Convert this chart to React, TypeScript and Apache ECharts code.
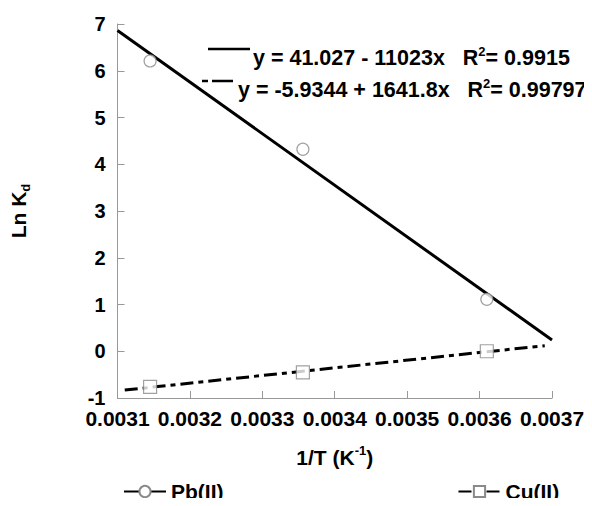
import React, { useEffect, useRef } from "react";
import * as echarts from "echarts";

const xTicks = [0.0031, 0.0032, 0.0033, 0.0034, 0.0035, 0.0036, 0.0037];
const yTicks = [-1, 0, 1, 2, 3, 4, 5, 6, 7];
const invT = [0.003145, 0.003356, 0.00361];
const pbLnKd = [6.21, 4.32, 1.11];
const cuLnKd = [-0.76, -0.45, 0.0];
const pbFitX = [0.0031, 0.0037];
const pbFitY = [6.86, 0.24];
const cuFitX = [0.00311, 0.00369];
const cuFitY = [-0.83, 0.12];
const pbEquation = ["y = 41.027 - 11023x   R", "2", "= 0.9915"];
const cuEquation = ["y = -5.9344 + 1641.8x   R", "2", "= 0.99797"];

const FONT = "'Liberation Sans', Arial, sans-serif";
const FS = 21;

export default function App() {
  const ref = useRef<HTMLDivElement>(null);
  useEffect(() => {
    if (!ref.current) return;
    const chart = echarts.init(ref.current, undefined, { renderer: "svg" });
    const pointStyle = { color: "#fff", borderColor: "#8a8a8a", borderWidth: 1.2 };
    const richEq = {
      a: { fontFamily: FONT, fontWeight: "bold", fontSize: 21.5, color: "#000", lineHeight: 26 },
      sup: { fontFamily: FONT, fontWeight: "bold", fontSize: 13, color: "#000", lineHeight: 13, verticalAlign: "top" },
    };
    const richName = {
      a: { fontFamily: FONT, fontWeight: "bold", fontSize: FS, color: "#000", lineHeight: 26 },
      sup: { fontFamily: FONT, fontWeight: "bold", fontSize: 13, color: "#000", lineHeight: 13, verticalAlign: "top" },
    };
    chart.setOption({
      animation: false,
      backgroundColor: "#fff",
      textStyle: { fontFamily: FONT },
      grid: { left: 117, top: 24, right: 40, bottom: 108, containLabel: false },
      xAxis: {
        type: "value",
        min: xTicks[0],
        max: xTicks[xTicks.length - 1],
        interval: 0.0001,
        name: "{a|1/T (K}{sup|-1}{a|)}",
        nameLocation: "middle",
        nameGap: 46,
        nameTextStyle: { rich: richName },
        axisLine: { show: true, onZero: false, lineStyle: { color: "#999", width: 1 } },
        axisTick: { show: true, inside: true, length: 7, lineStyle: { color: "#999" } },
        splitLine: { show: false },
        axisLabel: {
          formatter: (v: number) => v.toFixed(4),
          fontFamily: FONT,
          fontWeight: "bold",
          fontSize: FS,
          color: "#000",
          margin: 10,
        },
      },
      yAxis: {
        type: "value",
        min: yTicks[0],
        max: yTicks[yTicks.length - 1],
        interval: 1,
        name: "{a|Ln K}{sub|d}",
        nameLocation: "middle",
        nameGap: 86,
        nameRotate: 90,
        nameTextStyle: {
          rich: {
            a: { fontFamily: FONT, fontWeight: "bold", fontSize: FS, color: "#000", lineHeight: 26 },
            sub: { fontFamily: FONT, fontWeight: "bold", fontSize: 13, color: "#000", lineHeight: 13, verticalAlign: "bottom" },
          },
        },
        axisLine: { show: true, onZero: false, lineStyle: { color: "#999", width: 1 } },
        axisTick: { show: true, inside: true, length: 7, lineStyle: { color: "#999" } },
        splitLine: { show: false },
        axisLabel: { fontFamily: FONT, fontWeight: "bold", fontSize: 20, color: "#000", margin: 12 },
      },
      legend: {
        data: ["Pb(II)", "Cu(II)"],
        left: 123,
        top: 481,
        padding: 0,
        itemWidth: 42,
        itemHeight: 14,
        itemGap: 234,
        textStyle: { fontFamily: FONT, fontWeight: "bold", fontSize: FS, color: "#000" },
      },
      series: [
        {
          name: "Pb(II)",
          type: "line",
          data: pbFitX.map((x, i) => [x, pbFitY[i]]),
          symbol: "circle",
          symbolSize: 11,
          showSymbol: false,
          lineStyle: { color: "#000", width: 3 },
          itemStyle: pointStyle,
          z: 2,
        },
        {
          name: "Cu(II)",
          type: "line",
          data: cuFitX.map((x, i) => [x, cuFitY[i]]),
          symbol: "rect",
          symbolSize: 12,
          showSymbol: false,
          lineStyle: { color: "#000", width: 3, type: [13, 5, 5, 5] },
          itemStyle: pointStyle,
          z: 2,
        },
        {
          name: "Pb(II) points",
          type: "scatter",
          data: invT.map((x, i) => [x, pbLnKd[i]]),
          symbol: "circle",
          symbolSize: 12,
          itemStyle: pointStyle,
          z: 3,
        },
        {
          name: "Cu(II) points",
          type: "scatter",
          data: invT.map((x, i) => [x, cuLnKd[i]]),
          symbol: "rect",
          symbolSize: 13,
          itemStyle: pointStyle,
          z: 3,
        },
      ],
      graphic: [
        {
          type: "line",
          shape: { x1: 208, y1: 49, x2: 250, y2: 49 },
          style: { stroke: "#000", lineWidth: 2.5 },
        },
        {
          type: "text",
          x: 253,
          y: 58,
          style: {
            text: `{a|${pbEquation[0]}}{sup|${pbEquation[1]}}{a|${pbEquation[2]}}`,
            rich: richEq,
            verticalAlign: "middle",
            align: "left",
          },
        },
        {
          type: "line",
          shape: { x1: 202, y1: 81, x2: 233, y2: 81 },
          style: { stroke: "#000", lineWidth: 2.5, lineDash: [6, 4, 21, 4] },
        },
        {
          type: "text",
          x: 238,
          y: 90,
          style: {
            text: `{a|${cuEquation[0]}}{sup|${cuEquation[1]}}{a|${cuEquation[2]}}`,
            rich: richEq,
            verticalAlign: "middle",
            align: "left",
          },
        },
      ],
    });
    return () => chart.dispose();
  }, []);
  return <div ref={ref} style={{ width: 592, height: 506, margin: -8 }} />;
}
